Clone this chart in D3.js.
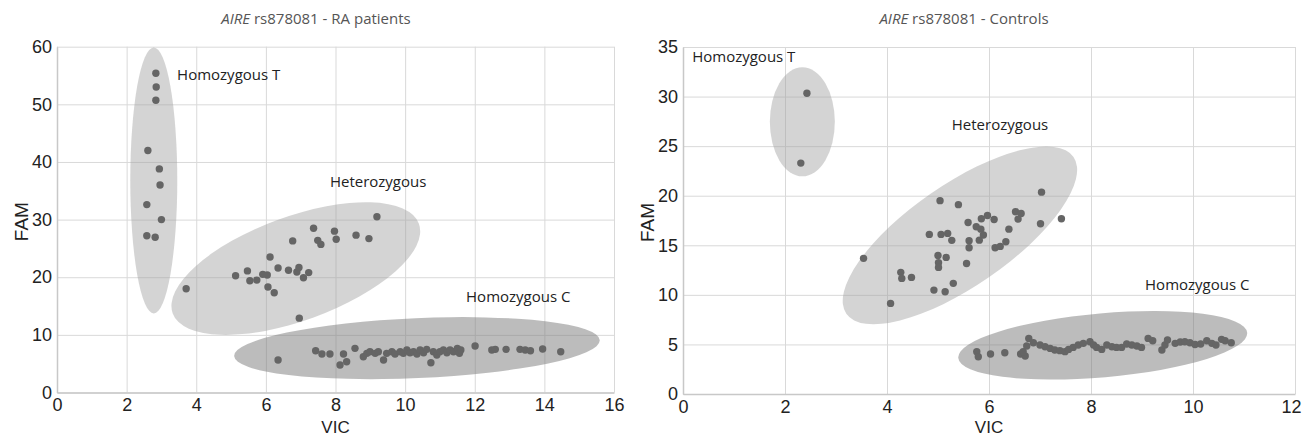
<!DOCTYPE html>
<html>
<head>
<meta charset="utf-8">
<script src="https://cdn.jsdelivr.net/npm/d3@7"></script>
<style>
  body { margin: 0; background: #fff; }
  svg { display: block; }
</style>
</head>
<body>
<div id="chart"></div>
<script>
// ---- data: [VIC, FAM] pairs ----
const raHomT = [[2.84,55.4],[2.85,53.0],[2.84,50.7],[2.61,42.0],[2.94,38.8],[2.96,36.0],[2.58,32.6],[3.0,30.0],[2.58,27.2],[2.82,26.95]];
const raHet = [[3.71,18.0],[5.13,20.25],[5.47,21.1],[5.54,19.4],[5.74,19.5],[5.91,20.5],[6.04,20.4],[6.12,23.5],[6.06,18.3],[6.24,17.3],
  [6.35,21.6],[6.65,21.2],[6.77,26.3],[6.89,20.9],[6.95,21.7],[7.08,19.9],[7.23,20.8],[6.96,12.9],[7.37,28.5],[7.49,26.4],
  [7.58,25.7],[7.97,28.0],[8.02,26.6],[8.59,27.3],[8.96,26.7],[9.19,30.5]];
const raHomC = [[6.35,5.63],[7.43,7.25],[7.61,6.67],[7.84,6.67],[8.13,4.77],[8.23,6.67],[8.32,5.34],[8.56,7.66],[8.8,6.2],[8.9,6.79],
  [8.99,7.07],[9.14,6.79],[9.23,7.07],[9.38,5.63],[9.47,6.79],[9.62,7.07],[9.71,6.67],[9.86,7.07],[9.95,6.79],[10.05,7.37],
  [10.14,6.9],[10.24,7.07],[10.34,6.67],[10.43,7.37],[10.53,6.9],[10.62,7.49],[10.74,5.17],[10.81,7.07],[10.91,6.5],[11.0,7.07],
  [11.1,7.37],[11.2,6.9],[11.29,7.37],[11.39,7.07],[11.5,7.66],[11.56,6.79],[11.6,7.37],[12.01,8.06],[12.49,7.37],[12.59,7.49],
  [12.9,7.49],[13.3,7.49],[13.45,7.37],[13.6,7.25],[13.95,7.54],[14.47,7.07]];

const ctlHomT = [[2.43,30.34],[2.31,23.29]];
const ctlHet = [[3.54,13.68],[4.07,9.14],[4.27,12.27],[4.29,11.66],[4.48,11.76],[4.83,16.1],[5.04,19.5],[5.06,16.1],[5.19,16.2],[5.27,15.5],
  [5.4,19.1],[5.0,13.98],[5.16,13.78],[5.01,13.24],[5.01,12.77],[4.92,10.48],[5.14,10.31],[5.3,11.16],[5.56,13.17],[5.59,17.3],
  [5.61,15.46],[5.61,14.75],[5.75,16.87],[5.84,16.63],[5.81,15.52],[5.89,16.03],[5.85,17.67],[5.97,18.0],[6.1,17.6],[6.12,14.75],
  [6.22,14.89],[6.33,15.35],[6.39,16.63],[6.52,18.38],[6.63,18.2],[6.57,17.64],[7.01,17.17],[7.03,20.36],[7.42,17.67]];
const ctlHomC = [[5.76,4.27],[5.79,3.76],[6.03,4.03],[6.31,4.16],[6.62,4.03],[6.71,3.83],[6.67,4.27],[6.74,4.84],[6.78,5.61],[6.87,5.17],
  [7.0,4.94],[7.1,4.77],[7.2,4.6],[7.29,4.44],[7.39,4.37],[7.49,4.27],[7.56,4.5],[7.65,4.7],[7.75,4.94],[7.85,5.11],
  [7.98,5.27],[8.05,4.94],[8.11,4.7],[8.21,4.5],[8.31,4.94],[8.41,4.77],[8.5,4.7],[8.6,4.7],[8.7,5.04],[8.8,4.94],
  [8.9,4.84],[8.99,4.7],[9.12,5.61],[9.21,5.37],[9.39,4.44],[9.45,4.94],[9.5,5.44],[9.65,5.11],[9.75,5.24],[9.84,5.27],
  [9.94,5.17],[10.04,5.0],[10.15,5.04],[10.27,5.37],[10.37,5.11],[10.45,4.94],[10.56,5.51],[10.63,5.37],[10.75,5.17]];

// tick values
const raXTicks = [0, 2, 4, 6, 8, 10, 12, 14, 16];
const raYTicks = [0, 10, 20, 30, 40, 50, 60];
const ctlXTicks = [0, 2, 4, 6, 8, 10, 12];
const ctlYTicks = [0, 5, 10, 15, 20, 25, 30, 35];

// cluster labels: [text, VIC, FAM]
const raLabels = [["Homozygous T", 3.45, 54.3], ["Heterozygous", 7.84, 35.6], ["Homozygous C", 11.75, 15.7]];
const ctlLabels = [["Homozygous T", 0.18, 33.5], ["Heterozygous", 5.27, 26.6], ["Homozygous C", 9.06, 10.5]];

// cluster ellipses: centre in data units, radii (px) and tilt (deg)
const raEllipses = [
  {cx: 2.78, cy: 36.8, rx: 23.5, ry: 133, angle: 0, dark: false},
  {cx: 6.86, cy: 21.5, rx: 131, ry: 52, angle: -20, dark: false},
  {cx: 10.34, cy: 7.7, rx: 183, ry: 30, angle: -2.5, dark: true}
];
const ctlEllipses = [
  {cx: 2.34, cy: 27.45, rx: 32.5, ry: 54.5, angle: 0, dark: false},
  {cx: 5.43, cy: 16.0, rx: 138, ry: 51, angle: -34.6, dark: false},
  {cx: 8.23, cy: 4.91, rx: 145, ry: 32, angle: -5, dark: true}
];

const svg = d3.select("#chart").append("svg")
  .attr("width", 1303)
  .attr("height", 437);

const tickFont = "'Liberation Sans', Arial, sans-serif";
const noteFont = "'Open Sans', sans-serif";

function drawPanel(opt) {
  const x = d3.scaleLinear().domain(opt.xDomain).range(opt.xRange);
  const y = d3.scaleLinear().domain(opt.yDomain).range(opt.yRange);
  const g = svg.append("g");
  const h = opt.yRange[0] - opt.yRange[1];
  const w = opt.xRange[1] - opt.xRange[0];

  // grid
  g.append("g")
    .attr("transform", "translate(0," + opt.yRange[0] + ")")
    .call(d3.axisBottom(x).tickValues(opt.xTicks).tickSize(-h).tickFormat(""))
    .call(a => a.select(".domain").remove())
    .call(a => a.selectAll("line").attr("stroke", "#d9d9d9"));
  g.append("g")
    .attr("transform", "translate(" + opt.xRange[0] + ",0)")
    .call(d3.axisLeft(y).tickValues(opt.yTicks).tickSize(-w).tickFormat(""))
    .call(a => a.select(".domain").remove())
    .call(a => a.selectAll("line").attr("stroke", "#d9d9d9"));

  // ellipses
  g.append("g").selectAll("ellipse")
    .data(opt.ellipses)
    .enter()
    .append("ellipse")
    .attr("cx", 0).attr("cy", 0)
    .attr("rx", d => d.rx).attr("ry", d => d.ry)
    .attr("transform", d => "translate(" + x(d.cx) + "," + y(d.cy) + ") rotate(" + d.angle + ")")
    .attr("fill", d => d.dark ? "#7a7a7a" : "#a0a0a0")
    .attr("fill-opacity", d => d.dark ? 0.5 : 0.45);

  // axes
  const xAxis = g.append("g")
    .attr("transform", "translate(0," + opt.yRange[0] + ")")
    .call(d3.axisBottom(x).tickValues(opt.xTicks).tickSize(0).tickPadding(6))
    .call(a => a.select(".domain").attr("stroke", "#c8c8c8").attr("stroke-width", 1.5))
    .call(a => a.selectAll("text").style("font-family", tickFont).style("font-size", "18px").attr("fill", "#222"));
  if (opt.lastTickShift) {
    xAxis.selectAll(".tick:last-of-type text").attr("dx", opt.lastTickShift);
  }
  g.append("g")
    .attr("transform", "translate(" + opt.xRange[0] + ",0)")
    .call(d3.axisLeft(y).tickValues(opt.yTicks).tickSize(0).tickPadding(5))
    .call(a => a.select(".domain").attr("stroke", "#c8c8c8").attr("stroke-width", 1.5))
    .call(a => a.selectAll("text").style("font-family", tickFont).style("font-size", "18px").attr("fill", "#222"));

  // points
  g.append("g").selectAll("circle")
    .data(opt.points)
    .enter()
    .append("circle")
    .attr("cx", d => x(d[0]))
    .attr("cy", d => y(d[1]))
    .attr("r", 3.7)
    .style("fill", "#656565");

  // cluster labels
  g.append("g").selectAll("text")
    .data(opt.labels)
    .enter()
    .append("text")
    .attr("x", d => x(d[1]))
    .attr("y", d => y(d[2]))
    .style("font-family", noteFont)
    .style("font-size", "15px")
    .attr("fill", "#222")
    .text(d => d[0]);

  // title, centred on the whole panel
  const title = g.append("text")
    .attr("x", opt.titleX)
    .attr("y", 24)
    .attr("text-anchor", "middle")
    .style("font-family", noteFont)
    .style("font-size", "15px")
    .attr("fill", "#555");
  title.append("tspan").style("font-style", "italic").text("AIRE");
  title.append("tspan").text(" rs878081 - " + opt.title);

  // axis titles
  g.append("text")
    .attr("x", (opt.xRange[0] + opt.xRange[1]) / 2)
    .attr("y", 433)
    .attr("text-anchor", "middle")
    .style("font-family", tickFont)
    .style("font-size", "17px")
    .attr("fill", "#222")
    .text("VIC");
  g.append("text")
    .attr("text-anchor", "middle")
    .style("font-family", tickFont)
    .style("font-size", "19px")
    .attr("fill", "#222")
    .attr("transform", "translate(" + (opt.xRange[0] - 29) + "," + ((opt.yRange[0] + opt.yRange[1]) / 2 + 2) + ") rotate(-90)")
    .text("FAM");
}

drawPanel({
  title: "RA patients",
  titleX: 316,
  xDomain: [0, 16], xRange: [57, 614],
  yDomain: [0, 60], yRange: [392.5, 46.7],
  xTicks: raXTicks, yTicks: raYTicks,
  ellipses: raEllipses,
  points: raHomT.concat(raHet, raHomC),
  labels: raLabels
});

drawPanel({
  title: "Controls",
  titleX: 964,
  xDomain: [0, 12], xRange: [683, 1295],
  yDomain: [0, 35], yRange: [394, 47],
  xTicks: ctlXTicks, yTicks: ctlYTicks,
  ellipses: ctlEllipses,
  points: ctlHomT.concat(ctlHet, ctlHomC),
  labels: ctlLabels,
  lastTickShift: -4
});
</script>
</body>
</html>
